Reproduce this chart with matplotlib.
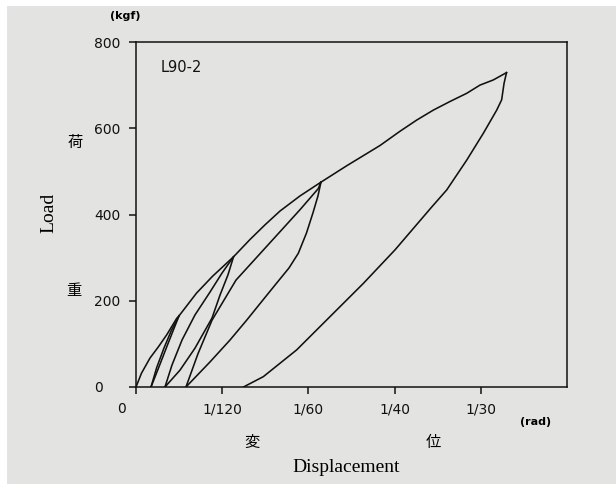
import matplotlib
matplotlib.use("Agg")
import matplotlib.pyplot as plt
from matplotlib.transforms import ScaledTranslation

# displacement in 1e-3 rad, load in kgf
env_d = [0, 0.53, 1.35, 2.16, 2.97, 3.93, 4.16, 5.86, 7.41, 9.43, 11.02, 12.47, 13.92, 15.85, 17.88,
         20.37, 23.59, 25.52, 27.14, 28.74, 30.35, 31.97, 33.25, 34.54, 35.82]
env_L = [0, 32, 67, 93, 121, 159, 165, 218, 257, 302, 342, 376, 408, 443, 475,
         513, 560, 593, 619, 642, 662, 681, 700, 712, 729]

unl1_d = [4.16, 3.61, 2.97, 2.16, 1.45]
unl1_L = [165, 132, 93, 43, 0]
rel1_d = [1.45, 2.0, 2.7, 3.4, 4.16]
rel1_L = [0, 45, 90, 130, 165]

unl2_d = [9.43, 8.89, 8.12, 7.35, 5.70, 4.25, 2.80]
unl2_L = [302, 260, 213, 160, 90, 39, 0]
rel2_d = [2.80, 3.48, 4.45, 5.70, 7.15, 8.31, 9.43]
rel2_L = [0, 51, 109, 167, 220, 264, 302]

unl3_d = [17.88, 17.59, 17.11, 16.48, 15.69, 14.79, 13.53, 12.18, 10.70, 9.09, 7.15, 4.83]
unl3_L = [475, 443, 404, 357, 310, 276, 239, 199, 155, 109, 58, 0]
rel3_d = [4.83, 5.99, 7.35, 9.67, 13.92, 15.85, 17.62, 17.88]
rel3_L = [0, 77, 155, 248, 360, 411, 460, 475]

unl4_d = [35.82, 35.58, 35.35, 34.87, 33.57, 31.97, 30.04, 28.61, 25.04, 21.97, 18.75, 15.53, 12.31, 10.39]
unl4_L = [729, 704, 666, 642, 588, 526, 457, 418, 318, 240, 163, 86, 24, 0]

x_ticks = [0, 1000 / 120, 1000 / 60, 1000 / 40, 1000 / 30]
x_labels = ["0", "1/120", "1/60", "1/40", "1/30"]
y_ticks = [0, 200, 400, 600, 800]
y_labels = ["0", "200", "400", "600", "800"]

bg = "#e3e3e1"
fig = plt.figure(figsize=(6.16, 4.84), dpi=100, facecolor=bg)
fig.patches.append(plt.Rectangle((0, 1 - 6 / 484), 1, 6 / 484, transform=fig.transFigure,
                                 facecolor="white", edgecolor="none", zorder=0))
fig.patches.append(plt.Rectangle((0, 0), 7 / 616, 1, transform=fig.transFigure,
                                 facecolor="white", edgecolor="none", zorder=0))

ax = fig.add_axes([136 / 616, 1 - 387 / 484, (567 - 136) / 616, (387 - 42) / 484])
ax.set_facecolor("none")
ax.set_xlim(0, 1000 / 24)
ax.set_ylim(0, 800)

lw = 1.15
for d, L in [(env_d, env_L), (unl1_d, unl1_L), (rel1_d, rel1_L), (unl2_d, unl2_L), (rel2_d, rel2_L),
             (unl3_d, unl3_L), (rel3_d, rel3_L), (unl4_d, unl4_L)]:
    ax.plot(d, L, color="#111111", lw=lw, solid_joinstyle="round")

for s in ax.spines.values():
    s.set_linewidth(1.1)
    s.set_color("#111111")

ax.set_xticks(x_ticks)
ax.set_xticklabels(x_labels, fontsize=10, family="DejaVu Sans")
ax.set_yticks(y_ticks)
ax.set_yticklabels(y_labels, fontsize=10, family="DejaVu Sans")
ax.tick_params(axis="x", direction="out", length=5, width=1.1, pad=6, colors="#111111")
ax.tick_params(axis="y", direction="out", length=5, width=1.1, pad=25, colors="#111111")
for lbl in ax.get_yticklabels():
    lbl.set_horizontalalignment("left")
xl = ax.get_xticklabels()
xl[0].set_transform(xl[0].get_transform() + ScaledTranslation(-14 / 100, 0, fig.dpi_scale_trans))

ax.text(0.058, 0.925, "L90-2", transform=ax.transAxes, fontsize=10.5, family="DejaVu Sans",
        ha="left", va="center", color="#111111")

def ftext(x, y, s, **kw):
    fig.text(x / 616, 1 - y / 484, s, **kw)

ftext(125, 16, "(kgf)", fontsize=8, family="DejaVu Sans", weight="bold", ha="center", va="center")
ftext(536, 422, "(rad)", fontsize=8, family="DejaVu Sans", weight="bold", ha="center", va="center")
ftext(49, 213, "Load", fontsize=14, family="Liberation Serif", rotation=90, ha="center", va="center")
ftext(346, 467, "Displacement", fontsize=14, family="Liberation Serif", ha="center", va="center")
cjk = ["Noto Sans CJK JP", "DejaVu Sans"]
ftext(75, 142, "荷", fontsize=11, family=cjk, ha="center", va="center")
ftext(74, 290, "重", fontsize=11, family=cjk, ha="center", va="center")
ftext(252, 442, "変", fontsize=11, family=cjk, ha="center", va="center")
ftext(433, 443, "位", fontsize=11, family=cjk, ha="center", va="center")

fig.savefig("out.png", dpi=100, facecolor=bg)
